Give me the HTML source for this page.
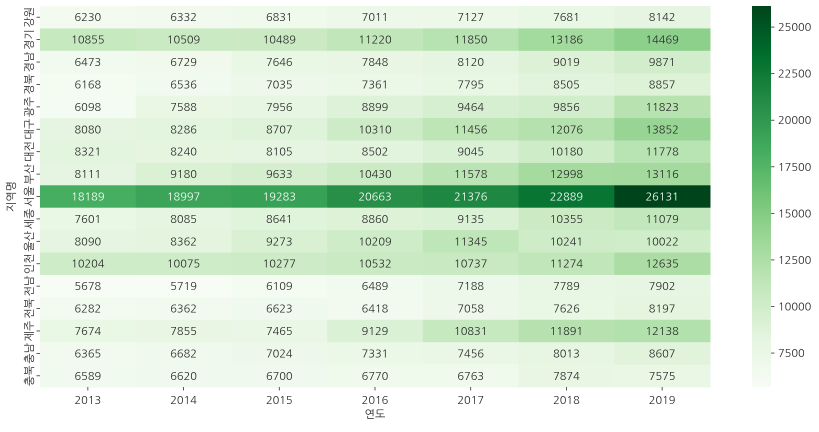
<!DOCTYPE html>
<html><head><meta charset="utf-8"><style>
body{margin:0;background:#fff;}
svg text{font-family:"NanumGothic","Liberation Sans",sans-serif;}
</style></head><body>
<svg id="c" width="819" height="427" xmlns="http://www.w3.org/2000/svg"></svg>
<script>
const years=["2013","2014","2015","2016","2017","2018","2019"];
const regions=["강원","경기","경남","경북","광주","대구","대전","부산","서울","세종","울산","인천","전남","전북","제주","충남","충북"];
const v_gangwon=[6230,6332,6831,7011,7127,7681,8142];
const v_gyeonggi=[10855,10509,10489,11220,11850,13186,14469];
const v_gyeongnam=[6473,6729,7646,7848,8120,9019,9871];
const v_gyeongbuk=[6168,6536,7035,7361,7795,8505,8857];
const v_gwangju=[6098,7588,7956,8899,9464,9856,11823];
const v_daegu=[8080,8286,8707,10310,11456,12076,13852];
const v_daejeon=[8321,8240,8105,8502,9045,10180,11778];
const v_busan=[8111,9180,9633,10430,11578,12998,13116];
const v_seoul=[18189,18997,19283,20663,21376,22889,26131];
const v_sejong=[7601,8085,8641,8860,9135,10355,11079];
const v_ulsan=[8090,8362,9273,10209,11345,10241,10022];
const v_incheon=[10204,10075,10277,10532,10737,11274,12635];
const v_jeonnam=[5678,5719,6109,6489,7188,7789,7902];
const v_jeonbuk=[6282,6362,6623,6418,7058,7626,8197];
const v_jeju=[7674,7855,7465,9129,10831,11891,12138];
const v_chungnam=[6365,6682,7024,7331,7456,8013,8607];
const v_chungbuk=[6589,6620,6700,6770,6763,7874,7575];
const values=[v_gangwon,v_gyeonggi,v_gyeongnam,v_gyeongbuk,v_gwangju,v_daegu,v_daejeon,v_busan,v_seoul,v_sejong,v_ulsan,v_incheon,v_jeonnam,v_jeonbuk,v_jeju,v_chungnam,v_chungbuk];
const cbTicks=[7500,10000,12500,15000,17500,20000,22500,25000];

const NS="http://www.w3.org/2000/svg";
const svg=document.getElementById('c');
function mk(t,a,p){const e=document.createElementNS(NS,t);for(const k in a)e.setAttribute(k,a[k]);(p||svg).appendChild(e);return e;}
const stops=["#f7fcf5","#e5f5e0","#c7e9c0","#a1d99b","#74c476","#41ab5d","#238b45","#006d2c","#00441b"].map(h=>[1,3,5].map(i=>parseInt(h.substr(i,2),16)));
let all=values.flat();const vmin=Math.min(...all),vmax=Math.max(...all);
function cmap(v){let t=(v-vmin)/(vmax-vmin);t=Math.max(0,Math.min(1,t))*(stops.length-1);const i=Math.min(Math.floor(t),stops.length-2),f=t-i;return stops[i].map((c,k)=>Math.round(c+(stops[i+1][k]-c)*f));}
function lum(c){const l=c.map(x=>{x/=255;return x<=0.03928?x/12.92:Math.pow((x+0.055)/1.055,2.4)});return 0.2126*l[0]+0.7152*l[1]+0.0722*l[2];}
const X0=40,X1=710,Y0=6,Y1=387;
const cw=(X1-X0)/years.length,ch=(Y1-Y0)/regions.length;
const xs=i=>X0+i*cw, ys=j=>Y0+j*ch;
const g=mk('g',{});


values.forEach((row,j)=>row.forEach((v,i)=>{
  const c=cmap(v);
  const r=mk('rect',{x:xs(i),y:ys(j),width:cw+0.5,height:ch+0.5,fill:`rgb(${c})`},g);
  
  
  const t=mk('text',{x:xs(i)+cw/2,y:ys(j)+ch/2+4,'text-anchor':'middle','font-size':'11',fill:lum(c)<0.408?'#fff':'#262626'},g);
  t.textContent=v;
  
  
}));
years.forEach((y,i)=>{
  const x=xs(i)+cw/2;
  mk('line',{x1:x,x2:x,y1:Y1,y2:Y1+3.5,stroke:'#333','stroke-width':0.8});
  const t=mk('text',{x:x,y:Y1+17,'text-anchor':'middle','font-size':'11',fill:'#262626'});
  t.textContent=y;
  
  
});
regions.forEach((r,j)=>{
  const y=ys(j)+ch/2;
  mk('line',{x1:X0-3.5,x2:X0,y1:y,y2:y,stroke:'#333','stroke-width':0.8});
  const t=mk('text',{x:0,y:0,transform:`translate(${X0-7},${y}) rotate(-90)`,'text-anchor':'middle','font-size':'11',fill:'#262626'});
  t.textContent=r;
  
  
});
const xt=mk('text',{x:(X0+X1)/2,y:418,'text-anchor':'middle','font-size':'11',fill:'#262626'});xt.textContent='연도';


const yt=mk('text',{x:0,y:0,transform:`translate(15,${(Y0+Y1)/2}) rotate(-90)`,'text-anchor':'middle','font-size':'11',fill:'#262626'});yt.textContent='지역명';


// colorbar
const CX=752,CW=19;
const defs=mk('defs',{});
const lg=mk('linearGradient',{id:'gr',x1:0,y1:1,x2:0,y2:0},defs);
stops.forEach((s,i)=>mk('stop',{offset:i/(stops.length-1),'stop-color':`rgb(${s})`},lg));
const cb=mk('rect',{x:CX,y:Y0,width:CW,height:Y1-Y0,fill:'url(#gr)'});


const cy=v=>Y1-(v-vmin)/(vmax-vmin)*(Y1-Y0);
cbTicks.forEach(v=>{
  const y=cy(v);
  mk('line',{x1:CX+CW,x2:CX+CW+3.5,y1:y,y2:y,stroke:'#333','stroke-width':0.8});
  const t=mk('text',{x:CX+CW+7,y:y+4,'font-size':'11',fill:'#262626'});t.textContent=v;
  
  
});
</script>
</body></html>
